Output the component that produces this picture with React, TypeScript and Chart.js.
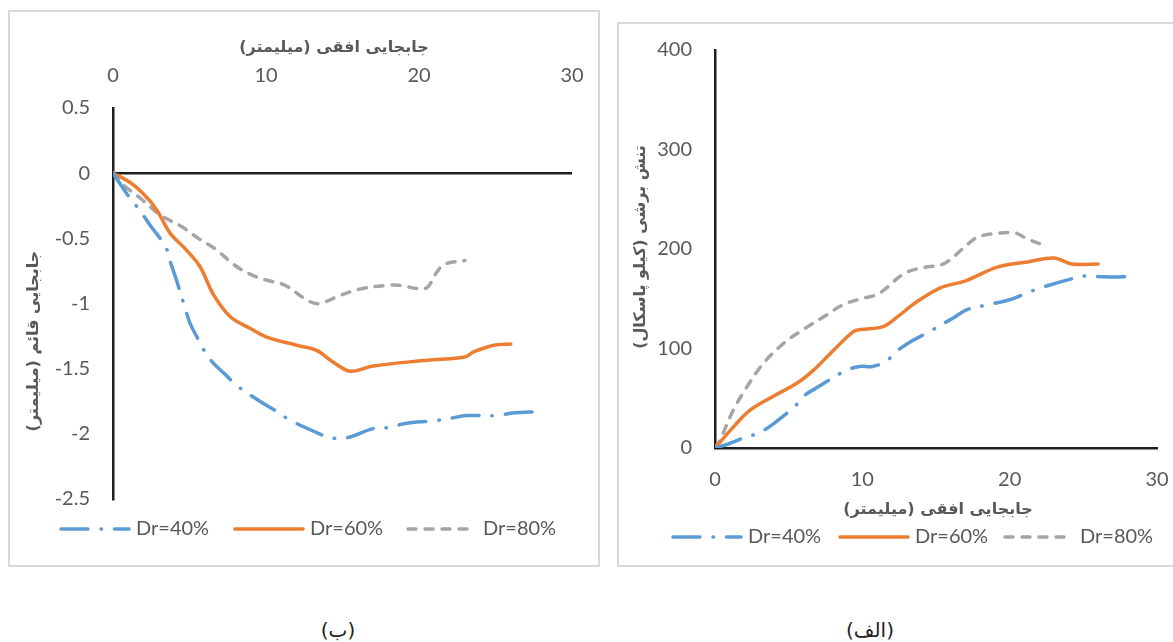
import React, { useEffect, useRef } from "react";
import { Chart, registerables } from "chart.js";

Chart.register(...registerables);

// ---------- Data: chart (ب) vertical vs horizontal displacement ----------
const leftX40 = [0, 1.1, 1.72, 2.37, 3.46, 3.77, 4.12, 4.7, 5.03, 5.5, 5.9, 6.5, 7.3, 8.1, 9.6, 10.6, 11.5, 13.3, 14.2, 15.3, 17, 18.1, 19.1, 21, 22.1, 23.1, 25.1, 26.1, 27.9];
const leftY40 = [0, -0.19, -0.28, -0.39, -0.57, -0.69, -0.81, -1.03, -1.15, -1.26, -1.35, -1.45, -1.54, -1.63, -1.75, -1.82, -1.89, -1.99, -2.03, -2.03, -1.96, -1.95, -1.92, -1.9, -1.88, -1.86, -1.86, -1.84, -1.83];
const leftX60 = [0, 1.1, 2.0, 2.85, 3.73, 4.8, 5.7, 6.56, 7.65, 8.95, 10.1, 12, 13.3, 14.4, 15.5, 17, 20.1, 23, 23.6, 24.9, 26];
const leftY60 = [0, -0.07, -0.16, -0.28, -0.46, -0.59, -0.72, -0.93, -1.1, -1.19, -1.26, -1.32, -1.36, -1.45, -1.52, -1.48, -1.44, -1.41, -1.37, -1.32, -1.31];
const leftX80 = [0, 0.67, 1.87, 3.07, 4.49, 5.58, 6.67, 8.0, 9.06, 10, 11.24, 12.77, 13.5, 14.8, 16.1, 17.9, 18.7, 20.2, 20.6, 21.05, 21.5, 21.9, 23];
const leftY80 = [0, -0.09, -0.2, -0.32, -0.41, -0.5, -0.58, -0.71, -0.78, -0.82, -0.86, -0.98, -1.0, -0.94, -0.89, -0.86, -0.86, -0.89, -0.87, -0.78, -0.71, -0.69, -0.67];

// ---------- Data: chart (الف) shear stress vs horizontal displacement ----------
const rightX40 = [0, 0.9, 1.92, 2.94, 3.85, 5.43, 6.1, 7.07, 8.77, 9.79, 10.7, 11.6, 12.4, 13.3, 14.3, 16.2, 17.1, 18.2, 20, 21.2, 22.1, 24.2, 25.2, 26.3, 27.8];
const rightY40 = [0, 4, 10, 15, 23, 42, 53, 62, 77, 82, 82, 87, 98, 107, 115, 131, 139, 143, 149, 156, 161, 170, 173, 172, 172];
const rightX60 = [0, 1.24, 2.38, 3.96, 5.55, 6.67, 8.03, 9.39, 9.9, 11.4, 12.4, 13.6, 15.3, 17, 19.2, 21.2, 23, 24.2, 26];
const rightY60 = [0, 21, 38, 52, 65, 78, 98, 117, 119, 122, 132, 146, 161, 168, 182, 187, 191, 185, 185];
const rightX80 = [0, 0.34, 1.24, 2.15, 3.28, 4.64, 5.77, 7.5, 8.7, 9.9, 11.1, 12.8, 14, 15.5, 16.8, 17.7, 18.7, 20.4, 21.2, 22.5];
const rightY80 = [0, 8, 38, 61, 85, 105, 117, 133, 144, 150, 155, 175, 181, 185, 200, 211, 215, 216, 210, 203];

const seriesLabels = ["Dr=40%", "Dr=60%", "Dr=80%"];
const xTitle = "جابجایی افقی (میلیمتر)";
const yTitleLeft = "جابجایی قائم (میلیمتر)";
const yTitleRight = "تنش برشی (کیلو پاسکال)";
const captionLeft = "(ب)";
const captionRight = "(الف)";

const BLUE = "#5B9BD5";
const ORANGE = "#ED7D31";
const GRAY = "#A5A5A5";
const TEXT = "#595959";
const AXIS = "#1f1f1f";
const FONT = 'Lato, "DejaVu Sans", sans-serif';
const TICK_SIZE = 20;

const zip = (xs: number[], ys: number[]) => xs.map((x, i) => ({ x, y: ys[i] }));

const makeDatasets = (xs: number[][], ys: number[][]) => [
  {
    label: seriesLabels[0],
    data: zip(xs[0], ys[0]),
    borderColor: BLUE,
    borderWidth: 3.5,
    borderDash: [27, 13, 0.5, 13],
    borderCapStyle: "round",
  },
  {
    label: seriesLabels[1],
    data: zip(xs[1], ys[1]),
    borderColor: ORANGE,
    borderWidth: 3.5,
    borderDash: [],
    borderCapStyle: "round",
  },
  {
    label: seriesLabels[2],
    data: zip(xs[2], ys[2]),
    borderColor: GRAY,
    borderWidth: 3.5,
    borderDash: [8, 9],
    borderCapStyle: "round",
  },
].map((d) => ({ ...d, pointRadius: 0, fill: false, tension: 0.35 }));

const overlayPlugin = {
  id: "overlay",
  afterDraw(chart: any, _args: any, opts: any) {
    const ctx = chart.ctx as CanvasRenderingContext2D;
    for (const t of opts.titles || []) {
      ctx.save();
      ctx.translate(t.x, t.y);
      ctx.rotate(t.rot || 0);
      ctx.font = `bold ${t.size}px "DejaVu Sans", sans-serif`;
      ctx.fillStyle = TEXT;
      (ctx as any).direction = "rtl";
      ctx.textAlign = "center";
      ctx.textBaseline = "middle";
      ctx.fillText(t.text, 0, 0);
      ctx.restore();
    }
    const lg = opts.legend;
    if (lg) {
      chart.data.datasets.forEach((ds: any, i: number) => {
        const x = lg.xs[i];
        ctx.save();
        ctx.strokeStyle = ds.borderColor;
        ctx.lineWidth = ds.borderWidth;
        ctx.lineCap = ds.borderCapStyle || "butt";
        ctx.setLineDash(ds.borderDash || []);
        ctx.beginPath();
        ctx.moveTo(x + 2, lg.y);
        ctx.lineTo(x + lg.sampleW - 2, lg.y);
        ctx.stroke();
        ctx.restore();
        ctx.save();
        ctx.font = `${TICK_SIZE}px ${FONT}`;
        ctx.fillStyle = TEXT;
        ctx.textAlign = "left";
        ctx.textBaseline = "middle";
        ctx.fillText(ds.label, x + lg.sampleW + 5, lg.y);
        ctx.restore();
      });
    }
  },
};

const zeroGrid = (ctx: any) => (ctx.tick && ctx.tick.value === 0 ? AXIS : "rgba(0,0,0,0)");
const plainNumber = (v: any) => String(Math.round(Number(v) * 100) / 100);

function LeftChart() {
  const ref = useRef<HTMLCanvasElement>(null);
  useEffect(() => {
    const chart = new Chart(ref.current!, {
      type: "line",
      data: { datasets: makeDatasets([leftX40, leftX60, leftX80], [leftY40, leftY60, leftY80]) as any },
      plugins: [overlayPlugin],
      options: {
        animation: false,
        responsive: false,
        layout: { padding: { left: 0, top: 0, right: 28, bottom: 68 } },
        scales: {
          x: {
            type: "linear",
            position: "top",
            min: 0,
            max: 30,
            ticks: { stepSize: 10, color: TEXT, font: { family: FONT, size: TICK_SIZE }, padding: 20, maxRotation: 0, callback: plainNumber },
            grid: { display: false, drawTicks: false },
            border: { display: false },
            afterFit: (s: any) => {
              s.height = 98;
              s.paddingLeft = 0;
              s.paddingRight = 0;
            },
          },
          y: {
            type: "linear",
            min: -2.5,
            max: 0.5,
            ticks: { stepSize: 0.5, color: TEXT, font: { family: FONT, size: TICK_SIZE }, padding: 23, callback: plainNumber },
            grid: { drawTicks: false, color: zeroGrid, lineWidth: 2.5 },
            border: { display: true, color: AXIS, width: 2.5 },
            afterFit: (s: any) => {
              s.width = 105;
              s.paddingTop = 0;
              s.paddingBottom = 0;
            },
          },
        },
        plugins: {
          legend: { display: false },
          tooltip: { enabled: false },
          overlay: {
            titles: [
              { text: xTitle, x: 326, y: 38, rot: 0, size: 16 },
              { text: yTitleLeft, x: 26, y: 331, rot: -Math.PI / 2, size: 16 },
            ],
            legend: { xs: [51, 225, 398], y: 519, sampleW: 72 },
          },
        } as any,
      },
    });
    return () => chart.destroy();
  }, []);
  return <canvas ref={ref} width={592} height={557} style={{ position: "absolute", left: 8, top: 10, width: 592, height: 557 }} />;
}

function RightChart() {
  const ref = useRef<HTMLCanvasElement>(null);
  useEffect(() => {
    const chart = new Chart(ref.current!, {
      type: "line",
      data: { datasets: makeDatasets([rightX40, rightX60, rightX80], [rightY40, rightY60, rightY80]) as any },
      plugins: [overlayPlugin],
      options: {
        animation: false,
        responsive: false,
        layout: { padding: { left: 0, top: 28, right: 16, bottom: 0 } },
        scales: {
          x: {
            type: "linear",
            position: "bottom",
            min: 0,
            max: 30,
            ticks: { stepSize: 10, color: TEXT, font: { family: FONT, size: TICK_SIZE }, padding: 20, maxRotation: 0, callback: plainNumber },
            grid: { display: false, drawTicks: false },
            border: { display: true, color: AXIS, width: 2.5 },
            afterFit: (s: any) => {
              s.height = 545 - 426;
              s.paddingLeft = 0;
              s.paddingRight = 0;
            },
          },
          y: {
            type: "linear",
            min: 0,
            max: 400,
            ticks: { stepSize: 100, color: TEXT, font: { family: FONT, size: TICK_SIZE }, padding: 23, callback: plainNumber },
            grid: { display: false, drawTicks: false },
            border: { display: true, color: AXIS, width: 2.5 },
            afterFit: (s: any) => {
              s.width = 98;
              s.paddingTop = 0;
              s.paddingBottom = 0;
            },
          },
        },
        plugins: {
          legend: { display: false },
          tooltip: { enabled: false },
          overlay: {
            titles: [
              { text: xTitle, x: 321, y: 488, rot: 0, size: 16 },
              { text: yTitleRight, x: 24, y: 225, rot: -Math.PI / 2, size: 16 },
            ],
            legend: { xs: [54, 221, 386], y: 515, sampleW: 72 },
          },
        } as any,
      },
    });
    return () => chart.destroy();
  }, []);
  return <canvas ref={ref} width={556} height={545} style={{ position: "absolute", left: 617, top: 22, width: 556, height: 545 }} />;
}

export default function App() {
  const captionStyle: React.CSSProperties = {
    position: "absolute",
    top: 618,
    width: 120,
    textAlign: "center",
    font: '20px "DejaVu Sans", sans-serif',
    color: "#222",
    direction: "rtl",
  };
  return (
    <div style={{ position: "absolute", left: 0, top: 0, width: 1173, height: 642, overflow: "hidden", background: "#fff" }}>
      <div style={{ position: "absolute", left: 8, top: 10, width: 588, height: 553, border: "2px solid #d9d9d9" }} />
      <div style={{ position: "absolute", left: 617, top: 22, width: 570, height: 541, border: "2px solid #d9d9d9", borderRight: "none" }} />
      <LeftChart />
      <RightChart />
      <div style={{ ...captionStyle, left: 338 - 60 }}>{captionLeft}</div>
      <div style={{ ...captionStyle, left: 870 - 60 }}>{captionRight}</div>
    </div>
  );
}
